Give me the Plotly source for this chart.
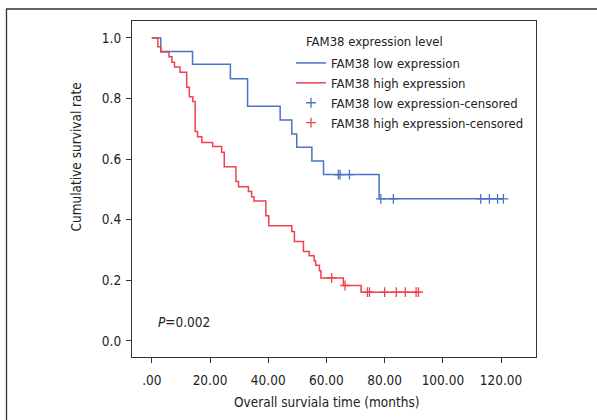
import plotly.graph_objects as go

# ---- data ----
low_times = [0.0, 3.1, 14.0, 27.0, 32.9, 44.1, 48.1, 49.8, 55.0, 59.0, 78.1]
low_surv = [1.0, 0.955, 0.913, 0.865, 0.775, 0.729, 0.683, 0.639, 0.594, 0.549, 0.469]
low_end = 120.8
low_cens_t = [64.1, 64.7, 67.9, 78.7, 83.0, 113.0, 116.0, 118.8, 120.8]
low_cens_s = [0.549, 0.549, 0.549, 0.469, 0.469, 0.469, 0.469, 0.469, 0.469]

high_times = [0.0, 2.1, 3.1, 5.9, 6.9, 7.8, 9.7, 12.0, 12.9, 14.1, 14.9, 15.7, 17.2,
              20.9, 24.0, 24.9, 28.9, 29.8, 33.2, 34.3, 35.1, 39.2, 40.2, 48.1, 49.0,
              52.1, 54.1, 55.8, 56.3, 57.6, 58.1, 65.8, 71.9]
high_surv = [1.0, 0.971, 0.954, 0.938, 0.92, 0.904, 0.887, 0.837, 0.806, 0.79, 0.691,
             0.674, 0.655, 0.642, 0.623, 0.575, 0.526, 0.509, 0.493, 0.476, 0.462,
             0.413, 0.38, 0.361, 0.328, 0.295, 0.281, 0.264, 0.25, 0.232, 0.208,
             0.183, 0.161]
high_end = 91.6
high_cens_t = [61.8, 66.4, 74.1, 74.8, 80.0, 84.0, 87.1, 90.8, 91.6]
high_cens_s = [0.208, 0.183, 0.161, 0.161, 0.161, 0.161, 0.161, 0.161, 0.161]

x_tickvals = [0, 20, 40, 60, 80, 100, 120]
x_ticktext = [".00", "20.00", "40.00", "60.00", "80.00", "100.00", "120.00"]
y_tickvals = [0.0, 0.2, 0.4, 0.6, 0.8, 1.0]

series_names = ["FAM38 low expression", "FAM38 high expression",
                "FAM38 low expression-censored", "FAM38 high expression-censored"]
legend_title = "FAM38 expression level"

BLUE = "#4a72c8"
RED = "#f2404e"
FONT = "DejaVu Sans Condensed, Liberation Sans Narrow, sans-serif"
TXT = "#222222"
FS = 13.5
FL = 13

fig = go.Figure()
fig.add_trace(go.Scatter(x=low_times + [low_end], y=low_surv + [low_surv[-1]],
                         mode="lines", line=dict(color=BLUE, width=1.5, shape="hv"),
                         name=series_names[0]))
fig.add_trace(go.Scatter(x=high_times + [high_end], y=high_surv + [high_surv[-1]],
                         mode="lines", line=dict(color=RED, width=1.5, shape="hv"),
                         name=series_names[1]))
fig.add_trace(go.Scatter(x=low_cens_t, y=low_cens_s, mode="markers",
                         marker=dict(symbol="cross-thin", size=7,
                                     line=dict(color=BLUE, width=1.3)),
                         name=series_names[2]))
fig.add_trace(go.Scatter(x=high_cens_t, y=high_cens_s, mode="markers",
                         marker=dict(symbol="cross-thin", size=7,
                                     line=dict(color=RED, width=1.3)),
                         name=series_names[3]))

L, R, T, B = 132, 61, 21, 63
W, H = 597, 420
pw, ph = W - L - R, H - T - B

def px_x(p):
    return (p - L) / pw

def px_y(p):
    return (H - B - p) / ph

fig.update_layout(
    width=W, height=H,
    margin=dict(l=L, r=R, t=T, b=B, pad=0),
    paper_bgcolor="white", plot_bgcolor="white",
    font=dict(family=FONT, size=FS, color=TXT),
    showlegend=True,
    legend=dict(
        x=px_x(291), y=px_y(48), xanchor="left", yanchor="top",
        bgcolor="rgba(0,0,0,0)", borderwidth=0,
        font=dict(size=FL, color=TXT), tracegroupgap=0, itemwidth=30,
    ),
    xaxis=dict(range=[-6.8, 132], tickvals=x_tickvals, ticktext=x_ticktext,
               showgrid=False, zeroline=False, showline=True, linecolor="#333",
               linewidth=1.3, mirror=True, ticks="outside", ticklen=5,
               tickcolor="#333", tickfont=dict(size=FS, color=TXT),
               ticklabelstandoff=6),
    yaxis=dict(range=[-0.053, 1.056], tickvals=y_tickvals, tickformat=".1f",
               showgrid=False, zeroline=False, showline=True, linecolor="#333",
               linewidth=1.3, mirror=True, ticks="outside", ticklen=5,
               tickcolor="#333", tickfont=dict(size=FS, color=TXT),
               ticklabelstandoff=2),
    annotations=[
        dict(text=legend_title, xref="paper", yref="paper",
             x=px_x(304), y=px_y(41.7), xanchor="left", yanchor="middle",
             showarrow=False, font=dict(size=FL, color=TXT)),
        dict(text="Overall surviala time (months)", xref="paper", yref="paper",
             x=px_x(326.7), y=px_y(401.7), xanchor="center", yanchor="middle",
             showarrow=False, font=dict(size=FS, color=TXT)),
        dict(text="Cumulative survival rate", xref="paper", yref="paper",
             x=px_x(75), y=px_y(157.5), xanchor="center", yanchor="middle",
             textangle=-90, showarrow=False, font=dict(size=FS, color=TXT)),
        dict(text="<i>P</i>=0.002", xref="paper", yref="paper",
             x=px_x(156), y=px_y(321.7), xanchor="left", yanchor="middle",
             showarrow=False, font=dict(size=FS, color=TXT)),
    ],
    shapes=[
        dict(type="line", xref="paper", yref="paper", x0=px_x(6.5), x1=px_x(6.5),
             y0=px_y(9), y1=px_y(425), line=dict(color="#333", width=1.3)),
        dict(type="line", xref="paper", yref="paper", x0=px_x(6), x1=px_x(600),
             y0=px_y(9), y1=px_y(9), line=dict(color="#333", width=1.3)),
    ],
)

fig.write_html("out.html")
